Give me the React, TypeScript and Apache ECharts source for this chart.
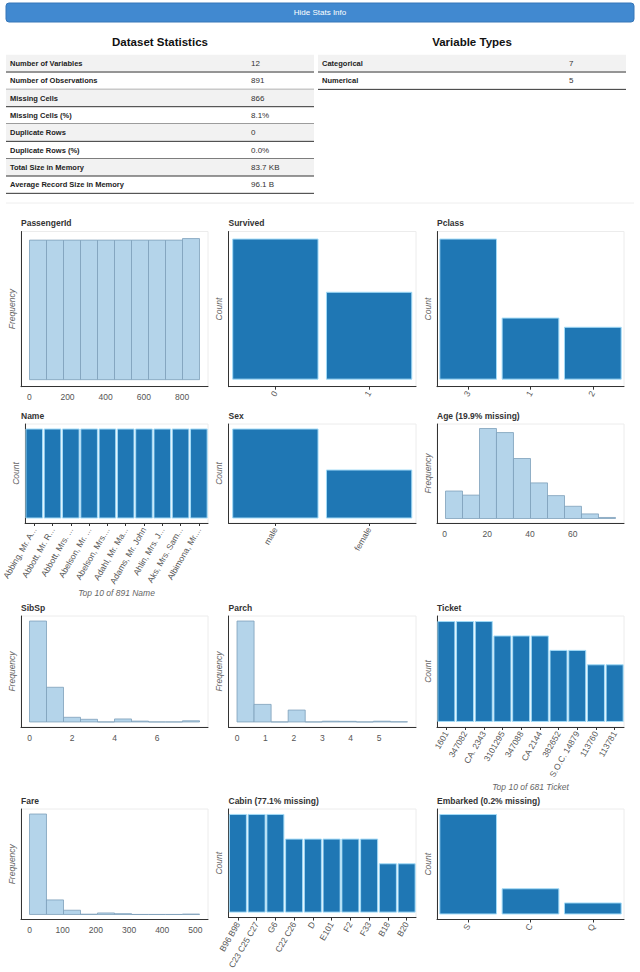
import React, { useEffect, useRef } from 'react';
import * as echarts from 'echarts';

const statLabels = [
  'Number of Variables',
  'Number of Observations',
  'Missing Cells',
  'Missing Cells (%)',
  'Duplicate Rows',
  'Duplicate Rows (%)',
  'Total Size in Memory',
  'Average Record Size in Memory',
];
const statValues = ['12', '891', '866', '8.1%', '0', '0.0%', '83.7 KB', '96.1 B'];
const typeLabels = ['Categorical', 'Numerical'];
const typeValues = ['7', '5'];

const passengerIdEdges = [1, 90, 179, 268, 357, 446, 535, 624, 713, 802, 891];
const passengerIdCounts = [89, 89, 89, 89, 89, 89, 89, 89, 89, 90];
const passengerIdTicks = [0, 200, 400, 600, 800];

const survivedCats = ['0', '1'];
const survivedCounts = [549, 342];

const pclassCats = ['3', '1', '2'];
const pclassCounts = [491, 216, 184];

const nameCats = [
  'Abbing, Mr. A...',
  'Abbott, Mr. R...',
  'Abbott, Mrs. ...',
  'Abelson, Mr. ...',
  'Abelson, Mrs....',
  'Adahl, Mr. Ma...',
  'Adams, Mr. John',
  'Ahlin, Mrs. J...',
  'Aks, Mrs. Sam...',
  'Albimona, Mr....',
];
const nameCounts = [1, 1, 1, 1, 1, 1, 1, 1, 1, 1];

const sexCats = ['male', 'female'];
const sexCounts = [577, 314];

const ageEdges = [0.42, 8.38, 16.34, 24.29, 32.25, 40.21, 48.17, 56.13, 64.08, 72.04, 80];
const ageCounts = [54, 46, 177, 169, 118, 70, 45, 24, 9, 2];
const ageTicks = [0, 20, 40, 60];

const sibspEdges = [0, 0.8, 1.6, 2.4, 3.2, 4.0, 4.8, 5.6, 6.4, 7.2, 8];
const sibspCounts = [608, 209, 28, 16, 0, 18, 5, 0, 0, 7];
const sibspTicks = [0, 2, 4, 6];

const parchEdges = [0, 0.6, 1.2, 1.8, 2.4, 3.0, 3.6, 4.2, 4.8, 5.4, 6];
const parchCounts = [678, 118, 0, 80, 0, 5, 4, 0, 5, 1];
const parchTicks = [0, 1, 2, 3, 4, 5];

const ticketCats = ['1601', '347082', 'CA. 2343', '3101295', '347088', 'CA 2144', '382652', 'S.O.C. 14879', '113760', '113781'];
const ticketCounts = [7, 7, 7, 6, 6, 6, 5, 5, 4, 4];

const fareEdges = [0, 51.23, 102.47, 153.7, 204.93, 256.16, 307.4, 358.63, 409.86, 461.1, 512.33];
const fareCounts = [732, 106, 31, 2, 11, 6, 0, 0, 0, 3];
const fareTicks = [0, 100, 200, 300, 400, 500];

const cabinCats = ['B96 B98', 'C23 C25 C27', 'G6', 'C22 C26', 'D', 'E101', 'F2', 'F33', 'B18', 'B20'];
const cabinCounts = [4, 4, 4, 3, 3, 3, 3, 3, 2, 2];

const embarkedCats = ['S', 'C', 'Q'];
const embarkedCounts = [644, 168, 77];

const FONT = '"Liberation Sans", Arial, Helvetica, sans-serif';

type Spec =
  | { kind: 'hist'; title: string; edges: number[]; counts: number[]; ticks: number[]; step: number }
  | { kind: 'cat'; title: string; cats: string[]; counts: number[]; xlabel?: string; xlabelGap?: number };

const specs: Spec[] = [
  { kind: 'hist', title: 'PassengerId', edges: passengerIdEdges, counts: passengerIdCounts, ticks: passengerIdTicks, step: 200 },
  { kind: 'cat', title: 'Survived', cats: survivedCats, counts: survivedCounts },
  { kind: 'cat', title: 'Pclass', cats: pclassCats, counts: pclassCounts },
  { kind: 'cat', title: 'Name', cats: nameCats, counts: nameCounts, xlabel: 'Top 10 of 891 Name', xlabelGap: 62 },
  { kind: 'cat', title: 'Sex', cats: sexCats, counts: sexCounts },
  { kind: 'hist', title: 'Age (19.9% missing)', edges: ageEdges, counts: ageCounts, ticks: ageTicks, step: 20 },
  { kind: 'hist', title: 'SibSp', edges: sibspEdges, counts: sibspCounts, ticks: sibspTicks, step: 2 },
  { kind: 'hist', title: 'Parch', edges: parchEdges, counts: parchCounts, ticks: parchTicks, step: 1 },
  { kind: 'cat', title: 'Ticket', cats: ticketCats, counts: ticketCounts, xlabel: 'Top 10 of 681 Ticket', xlabelGap: 51 },
  { kind: 'hist', title: 'Fare', edges: fareEdges, counts: fareCounts, ticks: fareTicks, step: 100 },
  { kind: 'cat', title: 'Cabin (77.1% missing)', cats: cabinCats, counts: cabinCounts },
  { kind: 'cat', title: 'Embarked (0.2% missing)', cats: embarkedCats, counts: embarkedCounts },
];

const rows = [
  { top: 231.5, height: 155.2 },
  { top: 424, height: 99 },
  { top: 616, height: 111 },
  { top: 809, height: 110.5 },
];
const cols = [
  { left: 21, width: 187 },
  { left: 228.5, width: 187.5 },
  { left: 437, width: 187 },
];

function buildOption() {
  const grid: any[] = [];
  const xAxis: any[] = [];
  const yAxis: any[] = [];
  const series: any[] = [];
  const graphic: any[] = [];

  graphic.push({
    type: 'rect',
    shape: { x: 6, y: 3, width: 628, height: 19, r: 3 },
    style: { fill: '#4189d0', stroke: '#3676b8', lineWidth: 1 },
  });
  graphic.push({
    type: 'text',
    x: 320,
    y: 12.5,
    style: {
      text: 'Hide Stats Info', fill: '#ffffff', fontSize: 8, fontFamily: FONT,
      textAlign: 'center', align: 'center', textVerticalAlign: 'middle', verticalAlign: 'middle',
    },
  });

  const headers = [
    { text: 'Dataset Statistics', x: 160 },
    { text: 'Variable Types', x: 472 },
  ];
  headers.forEach((h) =>
    graphic.push({
      type: 'text',
      x: h.x,
      y: 42,
      style: {
        text: h.text, fill: '#111', fontSize: 11.5, fontWeight: 'bold', fontFamily: FONT,
        textAlign: 'center', align: 'center', textVerticalAlign: 'middle', verticalAlign: 'middle',
      },
    })
  );

  const rowH = 17.33;
  const tableTop = 54.7;
  const drawTable = (labels: string[], values: string[], x0: number, x1: number, vx: number) => {
    labels.forEach((lab, i) => {
      const top = tableTop + i * rowH;
      if (i % 2 === 0) {
        graphic.push({ type: 'rect', shape: { x: x0, y: top, width: x1 - x0, height: rowH }, style: { fill: '#f2f2f2' } });
      }
      graphic.push({
        type: 'line',
        shape: { x1: x0, y1: top + rowH, x2: x1, y2: top + rowH },
        style: { stroke: '#333', lineWidth: 1 },
      });
      graphic.push({
        type: 'text', x: x0 + 4, y: top + rowH / 2,
        style: {
          text: lab, fill: '#222', fontSize: 7.5, fontWeight: 'bold', fontFamily: FONT,
          textAlign: 'left', align: 'left', textVerticalAlign: 'middle', verticalAlign: 'middle',
        },
      });
      graphic.push({
        type: 'text', x: vx, y: top + rowH / 2,
        style: {
          text: values[i], fill: '#333', fontSize: 8, fontFamily: FONT,
          textAlign: 'left', align: 'left', textVerticalAlign: 'middle', verticalAlign: 'middle',
        },
      });
    });
  };
  drawTable(statLabels, statValues, 6, 314, 251);
  drawTable(typeLabels, typeValues, 318, 626, 569);

  graphic.push({
    type: 'line',
    shape: { x1: 6, y1: 203, x2: 634, y2: 203 },
    style: { stroke: '#eeeeee', lineWidth: 1 },
  });

  specs.forEach((s, i) => {
    const r = rows[Math.floor(i / 3)];
    const c = cols[i % 3];
    grid.push({
      left: c.left, top: r.top, width: c.width, height: r.height,
      show: true, borderColor: '#ececec', borderWidth: 1, backgroundColor: 'transparent',
      containLabel: false,
    });
    graphic.push({
      type: 'text', x: c.left, y: r.top - 8.5,
      style: {
        text: s.title, fill: '#333', fontSize: 8.5, fontWeight: 'bold', fontFamily: FONT,
        textAlign: 'left', align: 'left', textVerticalAlign: 'middle', verticalAlign: 'middle',
      },
    });
    const M = Math.max(...s.counts);
    yAxis.push({
      type: 'value', gridIndex: i, min: -0.05 * M, max: 1.05 * M,
      axisLabel: { show: false }, axisTick: { show: false }, splitLine: { show: false },
      axisLine: { show: true, onZero: false, lineStyle: { color: '#333', width: 1 } },
      name: s.kind === 'hist' ? 'Frequency' : 'Count',
      nameLocation: 'middle', nameGap: 5, nameRotate: 90,
      nameTextStyle: { fontStyle: 'italic', fontSize: 8.5, color: '#666', fontFamily: FONT },
    });
    if (s.kind === 'hist') {
      const lo = s.edges[0];
      const hi = s.edges[s.edges.length - 1];
      const pad = 0.05 * (hi - lo);
      const ticks = s.ticks;
      xAxis.push({
        type: 'value', gridIndex: i, min: lo - pad, max: hi + pad,
        minInterval: s.step, maxInterval: s.step,
        splitLine: { show: false }, axisTick: { show: false },
        axisLine: { show: true, onZero: false, lineStyle: { color: '#333', width: 1 } },
        axisLabel: {
          fontSize: 8.5, color: '#555', margin: 6, fontFamily: FONT,
          formatter: (v: number) => (ticks.indexOf(Math.round(v * 1000) / 1000) >= 0 ? String(Math.round(v * 1000) / 1000) : ''),
        },
      });
      const data = s.counts.map((cnt, k) => [s.edges[k], s.edges[k + 1], cnt]);
      series.push({
        type: 'custom', xAxisIndex: i, yAxisIndex: i, data,
        encode: { x: [0, 1], y: 2 },
        renderItem: (params: any, api: any) => {
          const p0 = api.coord([api.value(0), api.value(2)]);
          const p1 = api.coord([api.value(1), 0]);
          return {
            type: 'rect',
            shape: { x: p0[0], y: p0[1], width: p1[0] - p0[0], height: p1[1] - p0[1] },
            style: { fill: '#b4d4ea', stroke: '#7d9fba', lineWidth: 0.8 },
          };
        },
      });
    } else {
      const catW = c.width / s.cats.length;
      const gapPct = Math.max(0, 9 - (1 / catW) * 100);
      xAxis.push({
        type: 'category', gridIndex: i, data: s.cats,
        axisLine: { show: true, onZero: false, lineStyle: { color: '#333', width: 1 } },
        axisTick: { show: true, alignWithLabel: true, length: 3, lineStyle: { color: '#333' } },
        axisLabel: { rotate: 60, fontSize: 8.5, color: '#555', margin: 5, interval: 0, fontFamily: FONT },
        splitLine: { show: false },
        name: s.xlabel || '',
        nameLocation: 'middle', nameGap: s.xlabelGap || 20,
        nameTextStyle: { fontStyle: 'italic', fontSize: 8.5, color: '#666', fontFamily: FONT },
      });
      series.push({
        type: 'bar', xAxisIndex: i, yAxisIndex: i, data: s.counts,
        barCategoryGap: gapPct.toFixed(2) + '%',
        itemStyle: { color: '#1f77b4', borderColor: '#a3dbf7', borderWidth: 1 },
      });
    }
  });

  return {
    animation: false,
    backgroundColor: '#ffffff',
    textStyle: { fontFamily: FONT },
    grid, xAxis, yAxis, series, graphic,
  };
}

export default function App() {
  const ref = useRef<HTMLDivElement>(null);
  useEffect(() => {
    document.body.style.margin = '0';
    if (!ref.current) return;
    const chart = echarts.init(ref.current, undefined, { renderer: 'svg' });
    chart.setOption(buildOption() as any);
    return () => chart.dispose();
  }, []);
  return <div ref={ref} style={{ width: 640, height: 972 }} />;
}
